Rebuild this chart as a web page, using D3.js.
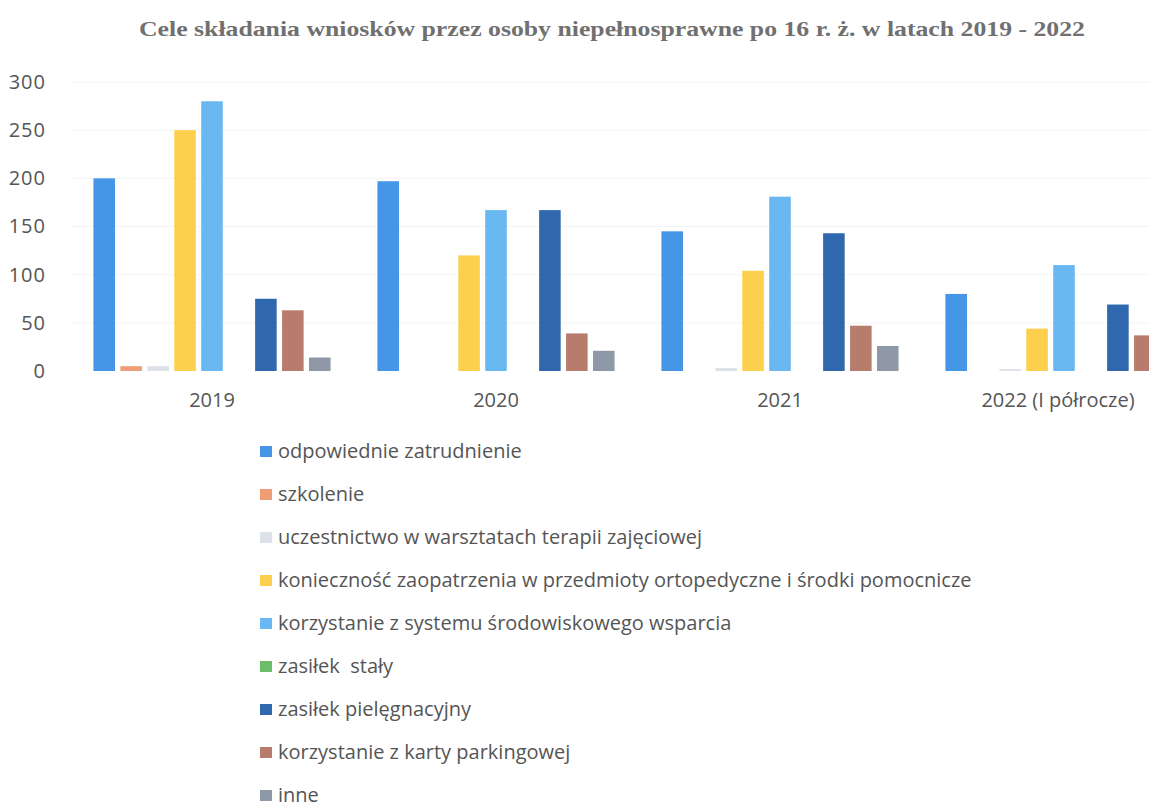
<!DOCTYPE html>
<html>
<head>
<meta charset="utf-8">
<script src="https://cdn.jsdelivr.net/npm/d3@7"></script>
<style>
  body { margin: 0; background: #fff; }
  text { font-family: "Open Sans", "DejaVu Sans", sans-serif; white-space: pre; }
</style>
</head>
<body>
<div id="chart"></div>
<script>
// years on x axis
var years = ["2019", "2020", "2021", "2022 (I półrocze)"];
var yTicks = [0, 50, 100, 150, 200, 250, 300];

var seriesNames = [
  "odpowiednie zatrudnienie",
  "szkolenie",
  "uczestnictwo w warsztatach terapii zajęciowej",
  "konieczność zaopatrzenia w przedmioty ortopedyczne i środki pomocnicze",
  "korzystanie z systemu środowiskowego wsparcia",
  "zasiłek  stały",
  "zasiłek pielęgnacyjny",
  "korzystanie z karty parkingowej",
  "inne"
];
var seriesColors = ["#4596e6", "#ee9d74", "#dde2ea", "#fccf4d", "#6ab8f2", "#6cbd6a", "#2f68ad", "#b87c6c", "#8e98a6"];

// values per series, one per year
var zatrudnienie = [200, 197, 145, 80];
var szkolenie = [5, 0, 0, 0];
var warsztaty = [5, 0, 3, 2];
var zaopatrzenie = [250, 120, 104, 44];
var wsparcie = [280, 167, 181, 110];
var staly = [0, 0, 0, 0];
var pielegnacyjny = [75, 167, 143, 69];
var parkingowa = [63, 39, 47, 37];
var inne = [14, 21, 26, 20];

var values = [zatrudnienie, szkolenie, warsztaty, zaopatrzenie, wsparcie, staly, pielegnacyjny, parkingowa, inne];

var width = 1149, height = 809;

var svg = d3.select("#chart").append("svg")
  .attr("width", width)
  .attr("height", height);

var y = d3.scaleLinear().domain([0, 300]).range([371, 82]);

var x0 = d3.scaleBand()
  .domain(years)
  .range([70, 1206])
  .paddingInner(0.165)
  .paddingOuter(0.0825);

var x1 = d3.scaleBand()
  .domain(d3.range(seriesNames.length))
  .range([0, x0.bandwidth()])
  .paddingInner(0.2);

// title
svg.append("text")
  .attr("x", 612)
  .attr("y", 36)
  .attr("text-anchor", "middle")
  .attr("textLength", 946)
  .attr("lengthAdjust", "spacingAndGlyphs")
  .style("font-family", "'Liberation Serif', 'DejaVu Serif', serif")
  .style("font-weight", "bold")
  .style("font-size", "21px")
  .style("fill", "#707070")
  .text("Cele składania wniosków przez osoby niepełnosprawne po 16 r. ż. w latach 2019 - 2022");

// faint gridlines
svg.append("g")
  .selectAll("line")
  .data(yTicks.slice(1))
  .enter().append("line")
  .attr("x1", 70)
  .attr("x2", width)
  .attr("y1", function(d) { return y(d); })
  .attr("y2", function(d) { return y(d); })
  .style("stroke", "#f3f3f3")
  .style("stroke-width", 1);

// y axis labels
var yAxis = d3.axisLeft(y).tickValues(yTicks).tickSize(0).tickPadding(0);
var gy = svg.append("g").attr("transform", "translate(46,0)").call(yAxis);
gy.select(".domain").remove();
gy.selectAll("text")
  .style("font-size", "20px")
  .style("letter-spacing", "1px")
  .style("fill", "#555")
  .style("font-family", "'Open Sans', sans-serif");

// bars
var groups = svg.append("g")
  .selectAll("g")
  .data(years)
  .enter().append("g")
  .attr("transform", function(d) { return "translate(" + x0(d) + ",0)"; });

groups.selectAll("rect")
  .data(function(d, i) { return values.map(function(v, s) { return { s: s, v: v[i] }; }); })
  .enter().append("rect")
  .attr("x", function(d) { return x1(d.s); })
  .attr("width", x1.bandwidth())
  .attr("y", function(d) { return y(d.v); })
  .attr("height", function(d) { return y(0) - y(d.v); })
  .style("fill", function(d) { return seriesColors[d.s]; });

// x axis labels
var xAxis = d3.axisBottom(x0).tickSize(0).tickPadding(0);
var gx = svg.append("g").attr("transform", "translate(0,393)").call(xAxis);
gx.select(".domain").remove();
gx.selectAll("text")
  .style("font-size", "20px")
  .style("fill", "#555")
  .style("font-family", "'Open Sans', sans-serif");
// last label is shifted to stay inside the page
gx.selectAll(".tick").filter(function(d) { return d === years[3]; })
  .select("text").attr("dx", -6);

// legend
var legend = svg.append("g")
  .selectAll("g")
  .data(seriesNames)
  .enter().append("g")
  .attr("transform", function(d, i) { return "translate(260," + (446 + i * 43) + ")"; });

legend.append("rect")
  .attr("width", 12)
  .attr("height", 11)
  .style("fill", function(d, i) { return seriesColors[i]; });

legend.append("text")
  .attr("x", 18)
  .attr("y", 12)
  .style("font-size", "20px")
  .style("fill", "#555")
  .text(function(d) { return d; });
</script>
</body>
</html>
